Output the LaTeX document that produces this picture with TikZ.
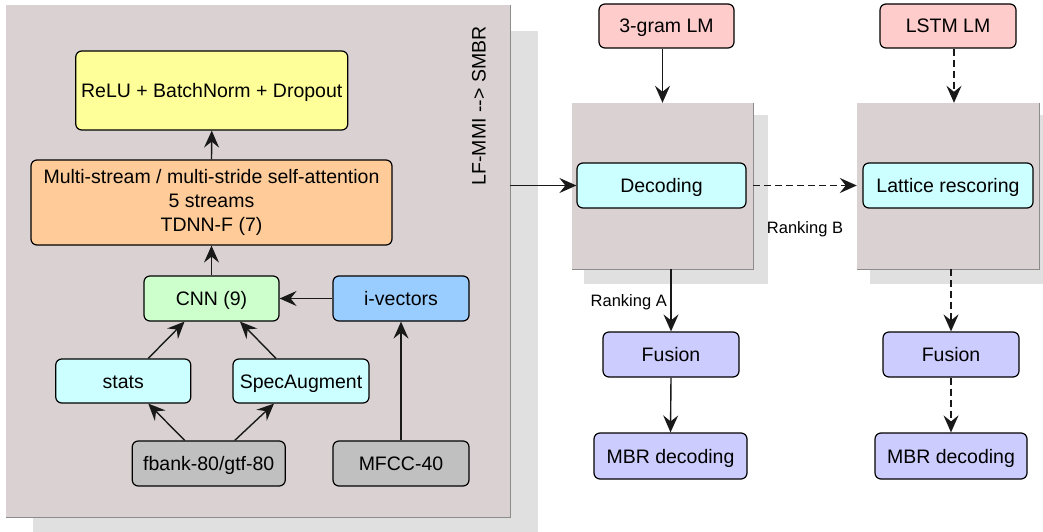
\documentclass[tikz,border=0pt]{standalone}
\usepackage{fontspec}
\setmainfont{Liberation Sans}
\usetikzlibrary{arrows.meta,calc}

\definecolor{panelfill}{HTML}{DAD2D2}
\definecolor{shadowfill}{HTML}{E0E0E0}
\definecolor{paneledge}{HTML}{8C8C8C}
\definecolor{cyellow}{HTML}{FFFF99}
\definecolor{corange}{HTML}{FFCC99}
\definecolor{cgreen}{HTML}{CCFFCC}
\definecolor{cblue}{HTML}{99CCFF}
\definecolor{ccyan}{HTML}{CCFFFF}
\definecolor{cgrey}{HTML}{C0C0C0}
\definecolor{cpink}{HTML}{FFCCCC}
\definecolor{clav}{HTML}{CCCCFF}

\begin{document}
\begin{tikzpicture}[x=1pt,y=-1pt,
  basebox/.style={draw=black, line width=1.2pt, rounded corners=6pt, inner sep=0pt,
    align=center, font=\fontsize{19.5}{24}\selectfont},
  box/.style={basebox, text height=14pt, text depth=0pt},
  panel/.style={fill=panelfill, draw=none, inner sep=0pt},
  shade/.style={fill=shadowfill, draw=none},
  rim/.style={draw=paneledge, line width=1.4pt},
  arr/.style={draw=black!90, line width=1.4pt, -{Stealth[length=17pt,width=15pt,inset=6pt]}},
  dsh/.style={arr, dash pattern=on 7pt off 4pt},
  lbl/.style={font=\fontsize{16.5}{20}\selectfont, inner sep=0pt}
]
\clip (0,0) rectangle (1043,532);
\fill[white] (0,0) rectangle (1043,532);

% drop shadows of the three group panels
\fill[shade] (33,31) rectangle (538,545);
\fill[shade] (584,115) rectangle (768,284);
\fill[shade] (870,115) rectangle (1050,284);

% group panels
\node[panel, minimum width=504pt, minimum height=512pt] (left) at (258,261) {};
\node[panel, minimum width=181pt, minimum height=166pt] (pa) at (662.5,186) {};
\node[panel, minimum width=182pt, minimum height=166pt] (pb) at (948,186) {};
\draw[rim] (left.north east) -- (left.south east) -- (left.south west);
\draw[rim] (pa.north east) -- (pa.south east) -- (pa.south west);
\draw[rim] (pb.north east) -- (pb.south east) -- (pb.south west);
\draw[white, line width=0.8pt] (pb.north west) -- (pb.south west);

% acoustic model
\node[box, fill=cyellow, minimum width=272pt, minimum height=79pt] (relu) at (211.75,90.5) {ReLU + BatchNorm + Dropout};
\node[basebox, fill=corange, minimum width=361pt, minimum height=85pt] (multi) at (211.5,202.5)
  {Multi-stream / multi-stride self-attention\\5 streams\\TDNN-F (7)};
\node[box, fill=cgreen, minimum width=135pt, minimum height=45pt] (cnn) at (211.5,298.5) {CNN (9)};
\node[box, fill=cblue, minimum width=136pt, minimum height=45pt] (ivec) at (401,298.5) {i-vectors};
\node[box, fill=ccyan, minimum width=135pt, minimum height=44pt] (stats) at (123.25,381) {stats};
\node[box, fill=ccyan, minimum width=136pt, minimum height=44pt] (spec) at (301,381) {SpecAugment};
\node[box, fill=cgrey, minimum width=153pt, minimum height=45pt] (fbank) at (208.75,463.5) {fbank-80/gtf-80};
\node[box, fill=cgrey, minimum width=136pt, minimum height=45pt] (mfcc) at (401,463.5) {MFCC-40};
\node[rotate=90, inner sep=0pt, font=\fontsize{19.5}{24}\selectfont] (tag) at (479,106) {LF-MMI -{}-{}> SMBR};

% decoding pipelines
\node[box, fill=cpink, minimum width=135pt, minimum height=44pt] (lm3) at (666.5,26) {3-gram LM};
\node[box, fill=cpink, minimum width=136pt, minimum height=44pt] (lstm) at (948,26) {LSTM LM};
\node[box, fill=ccyan, minimum width=169pt, minimum height=45pt] (dec) at (661.5,185.5) {Decoding};
\node[box, fill=ccyan, minimum width=170pt, minimum height=45pt] (lat) at (948,185.5) {Lattice rescoring};
\node[box, fill=clav, minimum width=136pt, minimum height=45pt] (fusA) at (671,354.5) {Fusion};
\node[box, fill=clav, minimum width=153pt, minimum height=46pt] (mbrA) at (670.5,456) {MBR decoding};
\node[box, fill=clav, minimum width=136pt, minimum height=45pt] (fusB) at (951,354.5) {Fusion};
\node[box, fill=clav, minimum width=152pt, minimum height=46pt] (mbrB) at (951,456) {MBR decoding};
\node[lbl, anchor=east] (rankA) at (667,302) {Ranking A};
\node[lbl] (rankB) at (805,229) {Ranking B};

% connectors, acoustic model
\draw[arr] (multi.north) -- (relu.south);
\draw[arr] (cnn.north) -- (multi.south);
\draw[arr] (ivec.west) -- (cnn.east);
\draw[arr] (mfcc.north) -- (ivec.south);
\draw[arr] ([xshift=25pt]stats.north) -- ([xshift=-27pt]cnn.south);
\draw[arr] ([xshift=-25pt]spec.north) -- ([xshift=28.5pt]cnn.south);
\draw[arr] ([xshift=-24pt]fbank.north) -- ([xshift=25pt]stats.south);
\draw[arr] ([xshift=26pt]fbank.north) -- ([xshift=-27pt]spec.south);

% connectors, decoding
\draw[arr] (left.east |- dec.west) -- (dec.west);
\draw[arr] (pa.north |- lm3.south) -- (pa.north);
\draw[dsh] ([xshift=6pt]lstm.south) -- ([xshift=6pt]pb.north);
\draw[dsh] (pa.east |- dec.east) -- (pb.west |- dec.east);
\draw[arr] (fusA.north |- pa.south) -- (fusA.north);
\draw[arr] (fusA.south) -- (mbrA.north);
\draw[dsh] (fusB.north |- pb.south) -- (fusB.north);
\draw[dsh] (fusB.south) -- (mbrB.north);
\end{tikzpicture}
\end{document}
